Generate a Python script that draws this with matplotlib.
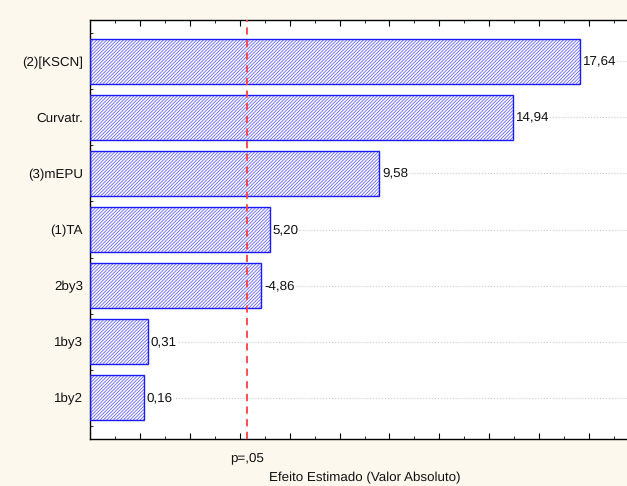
import numpy as np
import matplotlib
matplotlib.use("Agg")
from matplotlib import pyplot as plt
from matplotlib.ticker import MultipleLocator, FixedLocator

# efeitos (de cima para baixo)
factors = ["(2)[KSCN]", "Curvatr.", "(3)mEPU", "(1)TA", "2by3", "1by3", "1by2"]
effects = [17.64, 14.94, 9.58, 5.20, -4.86, 0.31, 0.16]
p_limit = 4.303
p_label = "p=,05"
x_title = "Efeito Estimado (Valor Absoluto)"

plt.rcParams['font.family'] = ['Liberation Sans', 'DejaVu Sans']
plt.rcParams['hatch.linewidth'] = 0.6
plt.rcParams['text.hinting'] = 'none'

x_min, x_max = -2, 20
fs = 9.6

fig = plt.figure(figsize=(6.27, 4.86), dpi=100)
fig.patch.set_facecolor('#fdf8ee')
ax = fig.add_axes([90 / 627, 47 / 486, 549 / 627, 419 / 486])
ax.set_facecolor('white')

pos = np.arange(len(factors))[::-1]
vals = np.abs(effects)

# barras partem do limite esquerdo do eixo (como no Statistica)
ax.barh(pos, vals - x_min, height=0.8, left=x_min, color='white', edgecolor='#6262ff',
        hatch='//////////', linewidth=0, zorder=2)
ax.barh(pos, vals - x_min, height=0.8, left=x_min, color='none', edgecolor='#1a1aff',
        linewidth=1.0, zorder=3)

for p, v, e in zip(pos, vals, effects):
    ax.text(v + 0.12, p, ("%.2f" % e).replace('.', ','), va='center', ha='left',
            fontsize=fs, color='#111111', zorder=4,
            bbox=dict(facecolor='white', edgecolor='none', pad=0.5))

ax.axvline(p_limit, color='#ff4040', linestyle=(0, (4, 3)), linewidth=1.3, zorder=5)

ax.set_xlim(x_min, x_max)
ax.set_ylim(-0.74, 6.74)
ax.set_yticks(pos)
ax.set_yticklabels(factors, fontsize=fs, color='#111111')
ax.yaxis.set_minor_locator(FixedLocator(np.arange(-0.5, 7, 1)))
ax.xaxis.set_major_locator(FixedLocator(np.arange(0, 21, 2)))
ax.xaxis.set_minor_locator(MultipleLocator(1))
ax.set_xticklabels([])
ax.grid(axis='y', which='major', color='#c8c8c8', linestyle=':', linewidth=0.8, zorder=0)
ax.set_axisbelow(True)

ax.tick_params(which='major', direction='in', length=4, width=0.8,
               top=True, bottom=True, left=True, right=False, pad=5)
ax.tick_params(which='minor', direction='in', length=2, width=0.6,
               top=True, bottom=True, left=True, right=False)
ax.spines['right'].set_visible(False)
for s in ['left', 'top', 'bottom']:
    ax.spines[s].set_linewidth(1.0)

ax.text(p_limit, -1.07, p_label, transform=ax.transData, ha='center', va='center',
        fontsize=fs, color='#111111')
ax.set_xlabel(x_title, fontsize=fs, labelpad=19, color='#111111')

fig.savefig("out.png", dpi=100, facecolor=fig.get_facecolor())
